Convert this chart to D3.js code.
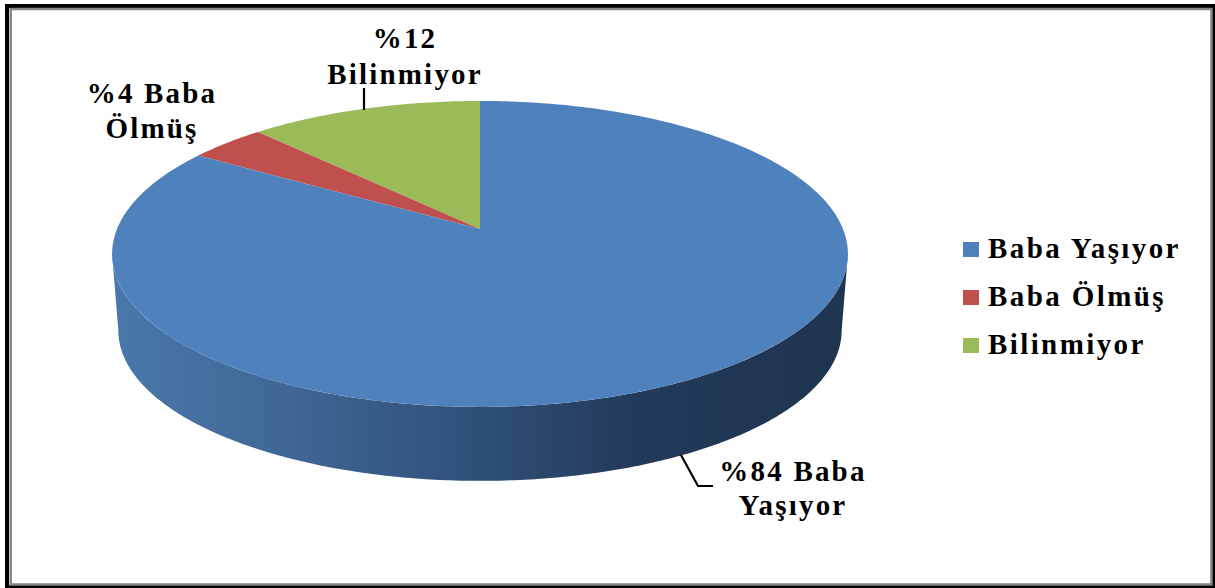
<!DOCTYPE html>
<html><head><meta charset="utf-8">
<script src="https://cdn.jsdelivr.net/npm/d3@7/dist/d3.min.js"></script>
<style>html,body{margin:0;padding:0;background:#fff}svg{display:block}
text{font-family:"Liberation Serif",serif;font-weight:bold;fill:#000;font-size:29px}</style>
</head><body><script>
const categories=["Bilinmiyor","Baba Ölmüş","Baba Yaşıyor"];
const values=[12,4,84];
const colors=["#9bbb59","#c0504d","#4f81bd"];
const legendOrder=["Baba Yaşıyor","Baba Ölmüş","Bilinmiyor"];
const labelLines=[["%12","Bilinmiyor"],["%4 Baba","Ölmüş"],["%84 Baba","Yaşıyor"]];

const W=1215,H=588;
const svg=d3.select("body").append("svg").attr("width",W).attr("height",H);
svg.append("rect").attr("width",W).attr("height",H).attr("fill","#fff");

// frame
svg.append("rect").attr("x",7).attr("y",6).attr("width",1207).attr("height",581)
  .attr("fill","none").attr("stroke","#000").attr("stroke-width",4);
svg.append("rect").attr("x",10.75).attr("y",9).attr("width",1200.75).attr("height",575.5)
  .attr("fill","none").attr("stroke","#858585").attr("stroke-width",2.5);

// perspective projection of the pie's circle
const k=0.163,R=363,Hz=148.9,cx=480,cy=229,depth=77,shrink=0.983;
const proj=(t,s=1,dy=0)=>{const u=Math.sin(t),v=Math.cos(t),w=1+k*v;
  return [cx+s*R*u/w, cy+dy-s*Hz*v/w];};
const rimLine=d3.line();

// slices run anticlockwise from 12 o'clock: green, red, then blue round the right
const pie=d3.pie().sort(null).value(d=>d).startAngle(0).endAngle(-2*Math.PI);
const arcs=pie(values);

// side wall
const tR=Math.acos(-k), tL=2*Math.PI-tR;
const sideT=d3.range(0,241).map(i=>tR+(tL-tR)*i/240);
const defs=svg.append("defs");
const grad=defs.append("linearGradient").attr("id","side").attr("gradientUnits","userSpaceOnUse")
  .attr("x1",112).attr("x2",848).attr("y1",0).attr("y2",0);
[[0,"#4a78ab"],[0.25,"#3f6694"],[0.5,"#2f4f78"],[0.72,"#223a59"],[1,"#1f344f"]]
  .forEach(([o,c])=>grad.append("stop").attr("offset",o).attr("stop-color",c));
const sidePts=sideT.map(t=>proj(t)).concat(sideT.slice().reverse().map(t=>proj(t,shrink,depth)));
svg.append("path").attr("d",rimLine(sidePts)+"Z").attr("fill","url(#side)");

// top faces
arcs.forEach((a,i)=>{
  const n=Math.max(8,Math.ceil(Math.abs(a.endAngle-a.startAngle)*60));
  const pts=d3.range(n+1).map(j=>proj(a.startAngle+(a.endAngle-a.startAngle)*j/n));
  svg.append("path").attr("d",rimLine([[cx,cy],...pts])+"Z").attr("fill",colors[i]);
});

// leader lines
const leaders=[[[364,88],[364,110]],[[681,455],[698,486],[713,486]]];
leaders.forEach(l=>svg.append("path").attr("d",d3.line()(l)).attr("fill","none")
  .attr("stroke","#000").attr("stroke-width",2.2));

// data labels
const labelAnchors=[[405,48,84],[152,103,138],[793,481,515]];
labelLines.forEach((ls,i)=>ls.forEach((s,j)=>{
  svg.append("text").attr("x",labelAnchors[i][0]).attr("y",labelAnchors[i][j+1])
    .attr("text-anchor","middle").attr("letter-spacing","2.2px").text(s);
}));

// legend
const legY=d3.scalePoint().domain(legendOrder).range([249,345]);
legendOrder.forEach(c=>{
  const idx=categories.indexOf(c),y=legY(c);
  svg.append("rect").attr("x",963).attr("y",y-7).attr("width",16).attr("height",15).attr("fill",colors[idx]);
  svg.append("text").attr("x",988).attr("y",y+9).attr("letter-spacing","2.4px").text(c);
});
</script></body></html>
